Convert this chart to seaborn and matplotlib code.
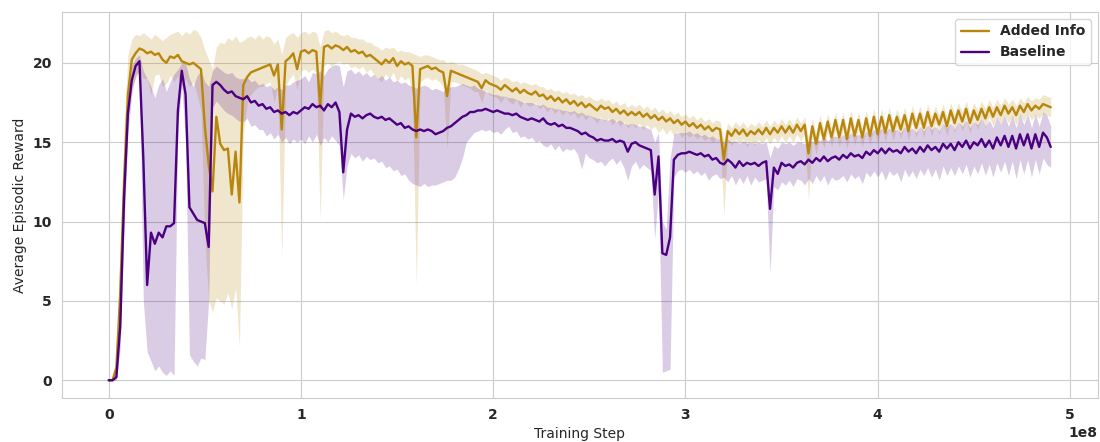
import numpy as np
import seaborn as sns
import matplotlib
matplotlib.use("Agg")
import matplotlib.pyplot as plt

# Training steps (millions), one sample every 2M steps
steps_m = np.arange(0, 491, 2)

# Added Info: mean reward and band (lower / upper)
added_mean = [
    0.0, 0.0, 0.8, 5.5, 12.5, 18.0, 20.2, 20.6, 20.9, 20.8,
    20.6, 20.7, 20.5, 20.6, 20.2, 20.0, 20.4, 20.3, 20.5, 20.1,
    20.0, 19.9, 20.0, 19.8, 19.6, 16.0, 13.6, 11.9, 16.6, 14.9,
    14.5, 14.6, 11.7, 14.4, 11.2, 18.6, 19.1, 19.4, 19.5, 19.6,
    19.7, 19.8, 19.9, 19.2, 19.9, 15.8, 20.1, 20.3, 20.6, 19.6,
    20.7, 20.8, 20.6, 20.8, 20.7, 17.2, 21.0, 21.1, 20.9, 21.1,
    21.0, 20.8, 21.0, 20.7, 20.8, 20.6, 20.7, 20.4, 20.5, 20.3,
    20.1, 19.9, 20.2, 20.0, 20.3, 19.8, 20.1, 19.9, 20.0, 19.8,
    15.3, 19.6, 19.7, 19.8, 19.6, 19.7, 19.5, 19.4, 17.9, 19.5,
    19.4, 19.3, 19.2, 19.1, 19.0, 18.9, 18.8, 18.4, 18.9, 18.7,
    18.6, 18.5, 18.3, 18.6, 18.4, 18.2, 18.4, 18.1, 18.3, 18.1,
    18.0, 18.2, 17.9, 18.0, 17.7, 17.9, 17.6, 17.8, 17.5, 17.7,
    17.4, 17.6, 17.3, 17.5, 17.2, 17.4, 17.2, 17.0, 17.3, 17.1,
    17.2, 16.9, 17.1, 16.8, 17.0, 16.7, 16.9, 16.7, 16.9, 16.6,
    16.8, 16.5, 16.7, 16.4, 16.6, 16.3, 16.5, 16.2, 16.4, 16.1,
    16.3, 16.0, 16.2, 15.9, 16.1, 15.8, 16.0, 15.7, 15.9, 15.8,
    13.9, 15.7, 15.4, 15.8, 15.5, 15.8, 15.4, 15.7, 15.5, 15.8,
    15.5, 15.9, 15.5, 15.9, 15.6, 16.0, 15.6, 16.0, 15.6, 16.1,
    15.7, 16.1, 14.3, 16.0, 14.9, 16.2, 15.2, 16.3, 15.3, 16.4,
    15.3, 16.4, 15.2, 16.5, 15.4, 16.4, 15.3, 16.5, 15.4, 16.6,
    15.5, 16.6, 15.6, 16.7, 15.7, 16.6, 15.8, 16.7, 15.7, 16.8,
    15.9, 16.8, 15.9, 16.9, 16.0, 16.8, 16.1, 16.9, 16.0, 17.0,
    16.2, 17.0, 16.3, 17.1, 16.2, 17.0, 16.4, 17.1, 16.5, 17.2,
    16.6, 17.2, 16.7, 17.3, 16.8, 17.2, 16.7, 17.3, 16.9, 17.4,
    17.0, 17.3, 17.1, 17.4, 17.3, 17.2,
]
added_low = [
    0.0, 0.0, 0.3, 3.5, 10.0, 16.5, 18.5, 19.0, 19.5, 19.0,
    19.0, 18.0, 19.2, 19.3, 18.5, 18.7, 19.2, 18.8, 19.2, 18.5,
    19.0, 18.5, 18.8, 18.0, 17.0, 9.0, 5.0, 4.3, 5.2, 5.0,
    4.8, 5.5, 4.5, 5.8, 2.1, 15.5, 17.5, 18.0, 18.3, 18.5,
    18.5, 18.7, 18.8, 17.5, 18.6, 7.7, 18.5, 19.0, 19.3, 18.3,
    19.5, 19.6, 19.4, 19.6, 19.4, 10.1, 19.8, 20.0, 19.8, 20.0,
    20.1, 19.9, 20.0, 19.7, 19.8, 19.6, 19.8, 19.4, 19.6, 19.3,
    19.0, 18.8, 19.3, 19.0, 19.4, 18.8, 19.2, 18.9, 19.1, 18.0,
    6.0, 18.8, 19.0, 19.1, 18.9, 19.0, 18.8, 18.5, 14.6, 18.8,
    18.8, 18.7, 18.6, 18.5, 18.4, 18.2, 18.2, 17.5, 18.3, 18.0,
    17.9, 17.8, 17.5, 17.9, 17.6, 17.4, 17.7, 17.2, 17.6, 17.3,
    17.3, 17.5, 17.1, 17.3, 16.9, 17.2, 16.8, 17.1, 16.7, 17.0,
    16.7, 16.9, 16.5, 16.8, 16.4, 16.7, 16.5, 16.2, 16.6, 16.3,
    16.5, 16.1, 16.4, 16.0, 16.3, 15.9, 16.2, 15.9, 16.2, 15.8,
    16.1, 15.8, 16.0, 15.6, 15.9, 15.5, 15.8, 15.4, 15.7, 15.3,
    15.6, 15.3, 15.5, 15.2, 15.4, 15.1, 15.3, 15.0, 15.2, 15.1,
    10.4, 15.1, 14.8, 15.2, 14.9, 15.2, 14.7, 15.1, 14.8, 15.2,
    14.9, 15.3, 14.9, 15.3, 15.0, 15.4, 15.0, 15.4, 15.0, 15.5,
    15.1, 15.5, 11.3, 15.4, 14.2, 15.6, 14.6, 15.7, 14.7, 15.8,
    14.7, 15.8, 14.6, 15.9, 14.8, 15.8, 14.7, 15.9, 14.8, 16.0,
    14.9, 16.0, 15.0, 16.1, 15.1, 16.0, 15.2, 16.1, 15.1, 16.2,
    15.3, 16.2, 15.3, 16.3, 15.4, 16.2, 15.5, 16.3, 15.4, 16.4,
    15.6, 16.4, 15.7, 16.5, 15.6, 16.4, 15.8, 16.5, 15.9, 16.6,
    16.0, 16.6, 16.1, 16.7, 16.2, 16.6, 16.1, 16.7, 16.3, 16.8,
    16.4, 16.7, 16.5, 16.8, 16.7, 16.6,
]
added_high = [
    0.0, 0.0, 1.5, 8.0, 16.0, 20.5, 21.5, 21.8, 21.7, 21.9,
    21.7, 21.5, 21.8, 21.6, 21.4, 21.6, 21.8, 21.9, 22.0, 21.7,
    22.0, 21.8, 22.1, 22.0, 21.6, 20.8, 20.2, 19.6, 21.0, 21.3,
    21.2, 21.6, 21.4, 21.7, 21.3, 21.4, 21.6, 21.7, 21.5, 21.8,
    21.5, 21.7, 21.6, 21.2, 21.5, 20.5, 21.6, 21.8, 21.9, 21.6,
    21.9, 22.0, 21.8, 22.0, 21.9, 21.0, 22.0, 22.1, 21.9, 22.0,
    21.8, 21.7, 21.8, 21.6, 21.6, 21.5, 21.5, 21.3, 21.3, 21.1,
    21.0, 20.8, 21.0, 20.9, 21.0, 20.7, 20.8, 20.7, 20.7, 20.6,
    20.5, 20.4, 20.5, 20.5, 20.4, 20.3, 20.2, 20.2, 20.0, 20.1,
    20.0, 19.9, 19.9, 19.8, 19.7, 19.6, 19.5, 19.3, 19.4, 19.3,
    19.2, 19.1, 18.9, 19.1, 19.0, 18.8, 18.9, 18.7, 18.8, 18.7,
    18.6, 18.7, 18.5, 18.5, 18.3, 18.4, 18.2, 18.3, 18.1, 18.2,
    18.0, 18.1, 17.9, 18.0, 17.8, 17.9, 17.7, 17.6, 17.8, 17.6,
    17.7, 17.4, 17.6, 17.3, 17.5, 17.2, 17.4, 17.2, 17.4, 17.1,
    17.3, 17.0, 17.2, 16.9, 17.1, 16.8, 17.0, 16.7, 16.9, 16.6,
    16.8, 16.5, 16.7, 16.4, 16.6, 16.3, 16.5, 16.2, 16.4, 16.3,
    15.2, 16.2, 15.9, 16.3, 16.0, 16.3, 15.9, 16.2, 16.0, 16.3,
    16.0, 16.4, 16.0, 16.4, 16.1, 16.5, 16.1, 16.5, 16.1, 16.6,
    16.2, 16.6, 15.3, 16.5, 15.5, 16.7, 15.8, 16.8, 15.9, 16.9,
    15.9, 16.9, 15.8, 17.0, 16.0, 16.9, 15.9, 17.0, 16.0, 17.1,
    16.1, 17.1, 16.2, 17.2, 16.3, 17.1, 16.4, 17.2, 16.3, 17.3,
    16.5, 17.3, 16.5, 17.4, 16.6, 17.3, 16.7, 17.4, 16.6, 17.5,
    16.8, 17.5, 16.9, 17.6, 16.8, 17.5, 17.0, 17.6, 17.1, 17.7,
    17.2, 17.7, 17.3, 17.8, 17.4, 17.7, 17.3, 17.8, 17.5, 17.9,
    17.6, 17.8, 17.7, 18.0, 17.9, 17.8,
]

# Baseline: mean reward and band (lower / upper)
base_mean = [
    0.0, 0.0, 0.2, 3.4, 11.5, 16.8, 18.9, 19.8, 20.1, 14.0,
    6.0, 9.3, 8.6, 9.3, 9.0, 9.7, 9.7, 9.9, 17.0, 19.5,
    18.0, 10.9, 10.5, 10.1, 10.0, 9.9, 8.4, 18.6, 18.8, 18.6,
    18.3, 18.1, 18.2, 17.9, 17.8, 17.7, 17.9, 17.5, 17.6, 17.3,
    17.4, 17.1, 17.2, 16.9, 17.0, 16.8, 16.9, 16.7, 16.9, 16.8,
    17.0, 17.2, 17.1, 17.4, 17.2, 17.3, 17.0, 17.4, 17.2, 17.5,
    16.9, 13.1, 15.8, 16.8, 16.6, 16.7, 16.5, 16.7, 16.8, 16.6,
    16.5, 16.6, 16.4, 16.5, 16.3, 16.1, 16.2, 15.9, 16.0, 15.8,
    15.7, 15.8, 15.7, 15.8, 15.7, 15.5, 15.6, 15.7, 15.9, 16.0,
    16.2, 16.4, 16.6, 16.7, 16.9, 16.9, 17.0, 17.0, 17.1, 17.0,
    16.9, 17.0, 16.9, 16.8, 16.8, 16.7, 16.8, 16.6, 16.5, 16.4,
    16.5, 16.4, 16.3, 16.5, 16.2, 16.1, 16.2, 16.0, 16.1, 15.9,
    15.9, 15.8, 15.7, 15.5, 15.6, 15.4, 15.3, 15.1, 15.2, 15.1,
    15.1, 15.2, 15.0, 15.1, 15.0, 14.4, 14.9, 15.0, 14.8, 14.7,
    14.6, 14.5, 11.7, 14.1, 8.0, 7.9, 9.0, 13.9, 14.2, 14.3,
    14.3, 14.4, 14.3, 14.2, 14.3, 14.1, 14.2, 13.9, 14.0, 13.7,
    13.6, 13.9, 13.7, 13.4, 13.8, 13.5, 13.7, 13.6, 13.7, 13.5,
    13.7, 13.8, 10.8, 13.4, 13.0, 13.7, 13.5, 13.6, 13.4, 13.7,
    13.8, 13.6, 13.9, 13.7, 14.0, 13.8, 14.1, 13.8, 14.0, 14.1,
    13.9, 14.2, 14.0, 14.3, 14.1, 14.2, 14.0, 14.4, 14.2, 14.5,
    14.3, 14.6, 14.3, 14.6, 14.4, 14.5, 14.3, 14.7, 14.4, 14.6,
    14.3, 14.7, 14.4, 14.8, 14.5, 14.7, 14.4, 14.9, 14.6, 14.9,
    14.5, 15.0, 14.7, 15.1, 14.6, 15.0, 14.8, 15.2, 14.7, 15.1,
    14.6, 15.3, 14.8, 15.4, 14.7, 15.4, 14.6, 15.5, 14.8, 15.5,
    14.6, 15.5, 14.7, 15.6, 15.3, 14.7,
]
base_low = [
    0.0, 0.0, 0.0, 2.0, 9.5, 15.5, 18.0, 19.2, 19.5, 5.0,
    1.8, 1.2, 0.6, 0.9, 0.5, 0.3, 0.6, 0.3, 16.0, 18.5,
    15.0, 1.6, 1.2, 0.9, 1.4, 1.3, 5.0, 17.2, 17.6, 17.3,
    17.0, 16.8, 16.7, 16.5, 16.3, 16.3, 16.5, 16.0, 16.1, 15.8,
    15.8, 15.4, 15.6, 15.2, 15.5, 15.0, 15.3, 14.9, 15.2, 15.0,
    15.2, 14.9, 15.4, 15.0, 15.5, 14.8, 15.3, 15.0, 15.4, 15.1,
    14.8, 11.4, 13.5, 14.3, 14.0, 14.2, 13.8, 14.1, 13.9, 14.0,
    13.7, 13.8, 13.4, 13.5, 13.2, 13.3, 12.9, 13.0, 12.6, 12.4,
    12.3, 12.2, 12.4, 12.2, 12.3, 12.3, 12.4, 12.5, 12.6, 12.6,
    12.8, 13.3, 14.0, 15.0, 15.3, 15.6, 15.7, 15.8, 15.7, 15.8,
    15.6, 15.7, 15.5, 15.8, 16.0, 15.6, 15.7, 15.3, 15.4, 15.2,
    15.3, 15.0, 15.1, 14.8, 14.7, 14.9, 14.5, 14.8, 14.4, 14.6,
    14.5, 14.6, 14.2, 13.3, 14.3, 14.0, 13.9, 13.7, 13.8, 13.5,
    13.8, 14.0, 13.6, 13.9, 13.4, 12.6, 13.5, 13.8, 13.3, 13.6,
    13.4, 13.2, 8.9, 12.0, 0.5, 0.6, 0.7, 12.8, 13.2, 13.3,
    13.1, 13.3, 13.0, 13.2, 12.9, 13.1, 12.6, 12.9, 13.0, 12.7,
    12.8, 12.5, 12.9, 12.3, 12.8, 12.4, 12.9, 12.3, 12.8, 12.5,
    12.6, 12.7, 6.7, 12.2, 12.0, 12.5, 12.3, 12.6, 12.2, 12.7,
    12.6, 12.3, 12.7, 12.4, 12.9, 12.5, 12.9, 12.3, 12.8, 12.6,
    12.7, 12.9, 12.5, 13.0, 12.7, 12.9, 12.4, 13.1, 12.8, 13.2,
    12.8, 13.2, 12.6, 13.2, 12.9, 13.1, 12.5, 13.3, 12.8, 13.2,
    12.7, 13.3, 12.9, 13.4, 12.8, 13.3, 12.6, 13.5, 12.9, 13.4,
    12.9, 13.5, 13.0, 13.6, 12.8, 13.5, 13.0, 13.7, 12.9, 13.6,
    12.8, 13.7, 13.1, 13.8, 12.9, 13.8, 12.7, 13.9, 13.0, 13.9,
    12.8, 13.9, 13.0, 14.0, 13.6, 13.4,
]
base_high = [
    0.0, 0.0, 0.5, 5.0, 13.5, 18.0, 19.8, 20.3, 20.5, 19.5,
    19.0, 18.5, 17.8, 18.6, 19.0, 18.2, 18.8, 19.3, 19.6, 20.0,
    20.0, 19.0, 18.5, 19.2, 19.5, 18.8, 18.5, 19.5, 19.8, 19.6,
    19.4, 19.3, 19.4, 19.1, 19.0, 19.0, 19.1, 18.8, 18.9, 18.6,
    18.7, 18.5, 18.6, 18.3, 18.5, 18.3, 18.6, 18.6, 18.8, 18.9,
    19.0, 19.2, 18.8, 19.4, 19.3, 19.5, 19.2, 19.6, 19.8, 19.9,
    19.8, 18.5, 19.5, 19.6, 19.3, 19.5, 19.2, 19.4, 19.1, 19.3,
    19.0, 19.2, 18.9, 19.1, 18.8, 18.9, 18.7, 18.8, 18.6, 18.5,
    18.4, 18.5, 18.6, 18.5, 18.3, 18.4, 18.3, 18.2, 18.4, 18.5,
    18.5, 18.6, 18.7, 18.6, 18.5, 18.6, 18.4, 18.3, 18.2, 18.1,
    18.0, 18.0, 17.9, 17.9, 17.8, 17.8, 17.7, 17.6, 17.5, 17.5,
    17.5, 17.4, 17.3, 17.4, 17.2, 17.2, 17.1, 17.1, 17.0, 17.0,
    16.9, 17.0, 16.8, 16.9, 16.7, 16.7, 16.6, 16.5, 16.5, 16.4,
    16.4, 16.5, 16.3, 16.4, 16.2, 16.1, 16.2, 16.1, 16.0, 16.0,
    15.9, 15.8, 15.0, 15.6, 10.0, 9.5, 14.0, 15.5, 15.6, 15.6,
    15.6, 15.7, 15.5, 15.6, 15.4, 15.5, 15.3, 15.4, 15.2, 15.2,
    15.0, 15.2, 15.0, 15.1, 14.9, 15.1, 14.9, 15.0, 14.9, 15.0,
    14.9, 15.0, 14.0, 14.8, 14.6, 15.0, 14.9, 15.0, 14.8, 15.0,
    15.0, 14.9, 15.1, 15.0, 15.2, 15.1, 15.3, 15.1, 15.3, 15.4,
    15.2, 15.5, 15.3, 15.6, 15.4, 15.5, 15.3, 15.7, 15.5, 15.8,
    15.6, 15.9, 15.6, 15.9, 15.7, 15.8, 15.6, 16.0, 15.7, 15.9,
    15.6, 16.0, 15.7, 16.1, 15.8, 16.0, 15.7, 16.2, 15.9, 16.2,
    15.8, 16.3, 16.0, 16.4, 15.9, 16.3, 16.1, 16.5, 16.0, 16.4,
    15.9, 16.6, 16.1, 16.7, 16.0, 16.7, 15.9, 16.8, 16.1, 16.8,
    15.9, 16.8, 16.0, 16.9, 16.7, 16.0,
]

added_color = "#b8860b"
base_color = "#4b0082"

sns.set_style("whitegrid")
fig, ax = plt.subplots(figsize=(11, 4.42), dpi=100)

steps = steps_m * 1e6

# bandas (min/max entre seeds)
ax.fill_between(steps, added_low, added_high, color=added_color, alpha=0.2, linewidth=0)
ax.fill_between(steps, base_low, base_high, color=base_color, alpha=0.2, linewidth=0)

# curvas médias
sns.lineplot(x=steps, y=added_mean, color=added_color, linewidth=1.7, label="Added Info", ax=ax)
sns.lineplot(x=steps, y=base_mean, color=base_color, linewidth=1.7, label="Baseline", ax=ax)

ax.set_xlabel("Training Step", fontsize=10)
ax.set_ylabel("Average Episodic Reward", fontsize=10)

for lab in ax.get_xticklabels() + ax.get_yticklabels():
    lab.set_fontweight("bold")
    lab.set_fontsize(10)
ax.xaxis.get_offset_text().set_fontweight("bold")
ax.xaxis.get_offset_text().set_fontsize(10)

leg = ax.legend(loc="upper right", prop={"weight": "bold", "size": 10})

fig.subplots_adjust(left=0.056, right=0.998, bottom=0.10, top=0.973)
fig.savefig("out.png", dpi=100)
